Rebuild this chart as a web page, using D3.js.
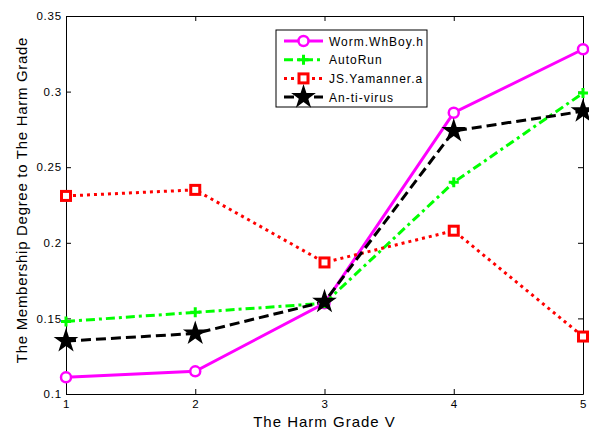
<!DOCTYPE html>
<html>
<head>
<meta charset="utf-8">
<script src="https://cdn.jsdelivr.net/npm/d3@7"></script>
<style>
  body { margin: 0; background: #fff; }
  text { font-family: "Liberation Sans", Arial, sans-serif; fill: #000; }
</style>
</head>
<body>
<div id="chart"></div>
<script>
// grades on the x axis
var grades = [1, 2, 3, 4, 5];
var yTicks = [0.1, 0.15, 0.2, 0.25, 0.3, 0.35];
// series values
var worm = [0.111, 0.115, 0.160, 0.286, 0.328];
var autorun = [0.148, 0.154, 0.160, 0.240, 0.299];
var yamanner = [0.231, 0.235, 0.187, 0.208, 0.138];
var antivirus = [0.135, 0.140, 0.161, 0.274, 0.287];
var names = ["Worm.WhBoy.h", "AutoRun", "JS.Yamanner.a", "An-ti-virus"];

var W = 589, H = 432;
var margin = {left: 66, right: 6, top: 16, bottom: 38};

var svg = d3.select("#chart").append("svg")
    .attr("width", W)
    .attr("height", H);

var x = d3.scaleLinear().domain([1, 5]).range([margin.left, W - margin.right]);
var y = d3.scaleLinear().domain([0.1, 0.35]).range([H - margin.bottom, margin.top]);

var series = [
  {name: names[0], values: worm, color: "#ff00ff", dash: null, marker: "circle"},
  {name: names[1], values: autorun, color: "#00ff00", dash: "9,4,3,4", marker: "plus"},
  {name: names[2], values: yamanner, color: "#ff0000", dash: "3,4", marker: "square"},
  {name: names[3], values: antivirus, color: "#000000", dash: "10,5", marker: "star"}
];

// axes box
var tickLen = 5;
svg.append("g")
    .attr("transform", "translate(0," + y(0.1) + ")")
    .call(d3.axisBottom(x).tickValues(grades).tickFormat(d3.format("d")).tickSizeInner(-tickLen).tickSizeOuter(0).tickPadding(6))
    .call(styleAxis);
svg.append("g")
    .attr("transform", "translate(0," + y(0.35) + ")")
    .call(d3.axisTop(x).tickValues(grades).tickFormat("").tickSizeInner(-tickLen).tickSizeOuter(0))
    .call(styleAxis);
svg.append("g")
    .attr("transform", "translate(" + x(1) + ",0)")
    .call(d3.axisLeft(y).tickValues(yTicks).tickFormat(d3.format("")).tickSizeInner(-tickLen).tickSizeOuter(0).tickPadding(4))
    .call(styleAxis);
svg.append("g")
    .attr("transform", "translate(" + x(5) + ",0)")
    .call(d3.axisRight(y).tickValues(yTicks).tickFormat("").tickSizeInner(-tickLen).tickSizeOuter(0))
    .call(styleAxis);

function styleAxis(g) {
  g.select(".domain").attr("stroke", "#000").attr("stroke-width", 1);
  g.selectAll(".tick line").attr("stroke", "#000");
  g.selectAll(".tick text").style("font-size", "11.5px").style("letter-spacing", "0.8px").attr("fill", "#000");
}

// lines
var line = d3.line()
    .x(function(d, i) { return x(grades[i]); })
    .y(function(d) { return y(d); });

series.forEach(function(s) {
  svg.append("path")
      .datum(s.values)
      .attr("d", line)
      .attr("fill", "none")
      .attr("stroke", s.color)
      .attr("stroke-width", 3)
      .attr("stroke-dasharray", s.dash);
});

var star = d3.symbol().type(d3.symbolStar).size(190);
function drawMarker(g, s, cx, cy) {
  if (s.marker == "circle") {
    g.append("circle").attr("cx", cx).attr("cy", cy).attr("r", 5)
        .attr("fill", "#fff").attr("stroke", s.color).attr("stroke-width", 2.5);
  } else if (s.marker == "plus") {
    g.append("path").attr("d", "M" + (cx - 5) + "," + cy + "H" + (cx + 5) + "M" + cx + "," + (cy - 5) + "V" + (cy + 5))
        .attr("stroke", s.color).attr("stroke-width", 3);
  } else if (s.marker == "square") {
    g.append("rect").attr("x", cx - 4.5).attr("y", cy - 4.5).attr("width", 9).attr("height", 9)
        .attr("fill", "#fff").attr("stroke", s.color).attr("stroke-width", 3);
  } else {
    g.append("path").attr("d", star).attr("transform", "translate(" + cx + "," + cy + ")")
        .attr("fill", s.color);
  }
}

series.forEach(function(s) {
  var g = svg.append("g");
  s.values.forEach(function(v, i) { drawMarker(g, s, x(grades[i]), y(v)); });
});

// legend
var lg = svg.append("g").attr("transform", "translate(276,30)");
lg.append("rect").attr("width", 151).attr("height", 77)
    .attr("fill", "#fff").attr("stroke", "#000").attr("stroke-width", 1);
series.forEach(function(s, i) {
  var ly = 11 + i * 18.7;
  lg.append("line").attr("x1", 8).attr("x2", 47).attr("y1", ly).attr("y2", ly)
      .attr("stroke", s.color).attr("stroke-width", 3).attr("stroke-dasharray", s.dash);
  drawMarker(lg, s, 27.5, ly);
  lg.append("text").attr("x", 53).attr("y", ly + 4.5)
      .style("font-size", "12px").style("letter-spacing", "1px").text(s.name);
});

// axis titles
svg.append("text")
    .attr("x", x(3))
    .attr("y", 427)
    .attr("text-anchor", "middle")
    .style("font-size", "15px")
    .style("letter-spacing", "1px")
    .text("The Harm Grade V");
svg.append("text")
    .attr("transform", "translate(27,200) rotate(-90)")
    .attr("text-anchor", "middle")
    .style("font-size", "15px")
    .style("letter-spacing", "0.7px")
    .text("The Membership Degree to The Harm Grade");
</script>
</body>
</html>
